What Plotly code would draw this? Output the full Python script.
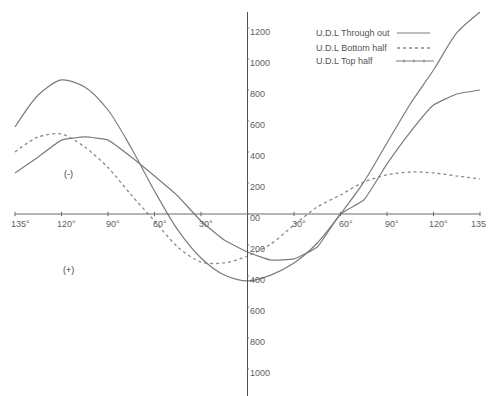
import plotly.graph_objects as go

# positions along the horizontal axis (tick index, left 135° = -5 ... right 135 = +5)
positions = [-5, -4.5, -4, -3.5, -3, -2.5, -2, -1.5, -1, -0.5, 0,
             0.5, 1, 1.5, 2, 2.5, 3, 3.5, 4, 4.5, 5]

udl_through_out = [561, 768, 865, 819, 671, 426, 148, -103, -284, -394, -432,
                   -394, -316, -187, 0, 206, 458, 710, 929, 1168, 1303]
udl_bottom_half = [400, 497, 516, 432, 300, 123, -45, -213, -310, -316, -271,
                   -194, -71, 45, 123, 206, 252, 271, 265, 245, 226]
udl_top_half = [264, 368, 477, 497, 477, 368, 245, 116, -45, -168, -245,
                -297, -290, -213, 0, 90, 323, 529, 703, 774, 800]

x_tick_pos = [-5, -4, -3, -2, -1, 1, 2, 3, 4, 5]
x_tick_text = ["135°", "120°", "90°", "60°", "30°", "30°", "60°", "90°", "120°", "135"]
y_tick_vals = [1200, 1000, 800, 600, 400, 200, 0, -200, -400, -600, -800, -1000]
y_tick_text = ["1200", "1000", "800", "600", "400", "200", "00", "200", "400", "600", "800", "1000"]

legend_names = ["U.D.L Through out", "U.D.L Bottom half", "U.D.L Top half"]

LINE = "#7c7c7c"
TXT = "#606060"
FONT = "Liberation Sans, Arial, sans-serif"

fig = go.Figure()
fig.add_trace(go.Scatter(x=positions, y=udl_through_out, mode="lines",
                         line=dict(color=LINE, width=1.2, shape="spline", smoothing=0.8)))
fig.add_trace(go.Scatter(x=positions, y=udl_bottom_half, mode="lines",
                         line=dict(color="#8a8a8a", width=1.3, dash="dot", shape="spline", smoothing=0.8)))
fig.add_trace(go.Scatter(x=positions, y=udl_top_half, mode="lines",
                         line=dict(color=LINE, width=1.2, shape="spline", smoothing=0.4)))

shapes = []
# horizontal axis
shapes.append(dict(type="line", xref="x", yref="y", x0=-5, x1=5, y0=0, y1=0,
                   line=dict(color="#6a6a6a", width=1)))
for p in x_tick_pos:
    shapes.append(dict(type="line", xref="x", yref="y", x0=p, x1=p, y0=-14, y1=14,
                       line=dict(color="#6a6a6a", width=1)))
# vertical axis
shapes.append(dict(type="line", xref="x", yref="y", x0=0, x1=0, y0=-1300, y1=1303,
                   line=dict(color="#505050", width=1)))
for v in y_tick_vals:
    shapes.append(dict(type="line", xref="x", yref="y", x0=0, x1=0.04, y0=v, y1=v,
                       line=dict(color="#8a8a8a", width=1)))

annotations = []
for p, t in zip(x_tick_pos, x_tick_text):
    last = (p == x_tick_pos[-1])
    annotations.append(dict(x=p, y=0, xref="x", yref="y", text=t, showarrow=False,
                            xanchor="right" if last else "center", yanchor="middle",
                            xshift=8 if last else 5, yshift=-10,
                            font=dict(family=FONT, size=9, color=TXT)))
for v, t in zip(y_tick_vals, y_tick_text):
    annotations.append(dict(x=0, y=v, xref="x", yref="y", text=t, showarrow=False,
                            xanchor="left", yanchor="middle", xshift=0, yshift=-4,
                            font=dict(family=FONT, size=9, color=TXT)))

annotations.append(dict(x=-3.85, y=260, xref="x", yref="y", text="(-)", showarrow=False,
                        font=dict(family=FONT, size=9, color="#404040")))
annotations.append(dict(x=-3.85, y=-360, xref="x", yref="y", text="(+)", showarrow=False,
                        font=dict(family=FONT, size=9, color="#404040")))

# legend (text left, line sample right) in pixel-like paper coords
W, H = 489, 396
leg_y = [33, 48, 61]
for name, yy in zip(legend_names, leg_y):
    annotations.append(dict(x=314 / W, y=1 - yy / H, xref="paper", yref="paper", text=name,
                            showarrow=False, xanchor="left", yanchor="middle",
                            font=dict(family=FONT, size=9, color="#555555")))
shapes.append(dict(type="line", xref="paper", yref="paper", x0=397 / W, x1=430 / W,
                   y0=1 - 33 / H, y1=1 - 33 / H, line=dict(color=LINE, width=1.2)))
shapes.append(dict(type="line", xref="paper", yref="paper", x0=397 / W, x1=430 / W,
                   y0=1 - 48 / H, y1=1 - 48 / H, line=dict(color="#8a8a8a", width=1.3, dash="dot")))
shapes.append(dict(type="line", xref="paper", yref="paper", x0=396 / W, x1=434 / W,
                   y0=1 - 61 / H, y1=1 - 61 / H, line=dict(color=LINE, width=1.2)))
for px in [404, 414, 424]:
    shapes.append(dict(type="line", xref="paper", yref="paper", x0=px / W, x1=px / W,
                       y0=1 - 59.5 / H, y1=1 - 62.5 / H, line=dict(color=LINE, width=1)))

px_per_unit_x = 46.5
px_per_unit_y = 0.155
fig.update_layout(
    width=W, height=H,
    margin=dict(l=0, r=0, t=0, b=0),
    paper_bgcolor="white", plot_bgcolor="white",
    showlegend=False,
    hovermode=False,
    xaxis=dict(visible=False, range=[-5 - 15 / px_per_unit_x, 5 + 9 / px_per_unit_x]),
    yaxis=dict(visible=False, range=[-182 / px_per_unit_y, 214 / px_per_unit_y]),
    shapes=shapes,
    annotations=annotations,
)

fig.write_html("out.html", config={"displayModeBar": False},
               post_script="document.body.style.margin='0';")
